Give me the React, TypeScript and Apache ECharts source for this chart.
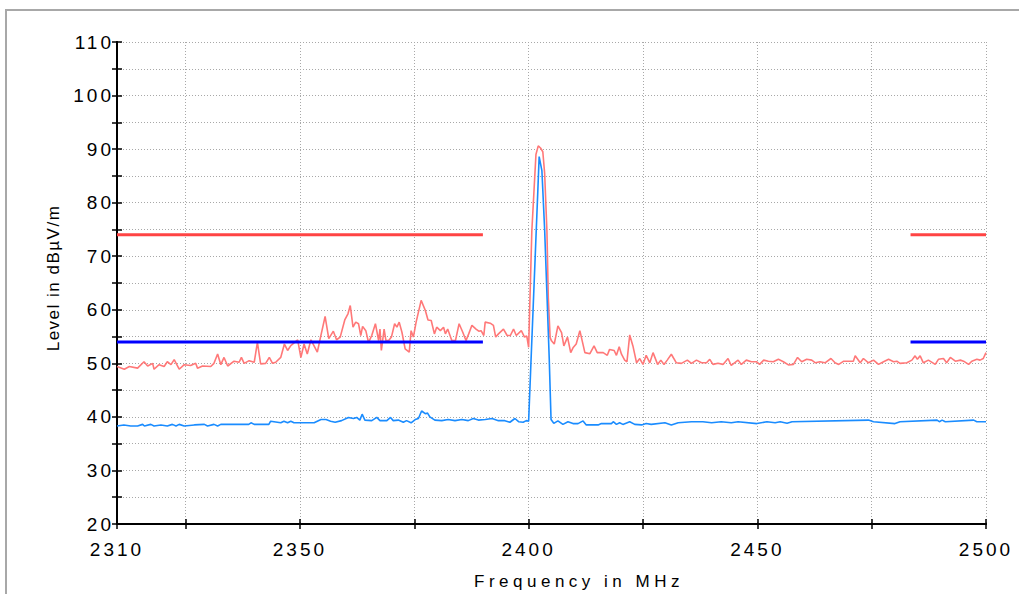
import React, { useEffect, useRef } from "react";
import * as echarts from "echarts";

const X_TITLE = "Frequency in MHz";
const Y_TITLE = "Level in dBµV/m";

const X_MIN = 2310;
const X_MAX = 2500;
const Y_MIN = 20;
const Y_MAX = 110;
const X_TICKS = [2310, 2325, 2350, 2375, 2400, 2425, 2450, 2475, 2500];
const X_LABELS = [2310, 2350, 2400, 2450, 2500];
const Y_LABELS = [20, 30, 40, 50, 60, 70, 80, 90, 100, 110];

// Peak detector trace [MHz, dBµV/m]
const peakTrace: [number, number][] = [
  [2310, 49.4], [2311.6, 48.9], [2312.7, 49.4], [2314.5, 49.1], [2315.9, 50.3], [2316.7, 49.5],
  [2317.8, 50.0], [2318.1, 48.9], [2319.2, 49.75], [2320.3, 49.4], [2321.0, 50.3], [2321.8, 49.75],
  [2322.5, 50.7], [2323.6, 48.9], [2324.7, 49.75], [2326.1, 49.6], [2327.2, 50.0], [2327.6, 49.1],
  [2328.7, 49.5], [2330.5, 49.4], [2331.2, 50.0], [2332.0, 51.75], [2332.7, 49.75], [2333.4, 51.1],
  [2334.2, 49.5], [2335.6, 50.4], [2336.7, 50.2], [2337.2, 51.1], [2337.8, 50.0], [2338.9, 50.5],
  [2340.0, 50.2], [2340.7, 53.9], [2341.4, 49.9], [2342.5, 50.0], [2343.3, 51.1], [2344.0, 50.0],
  [2344.7, 50.2], [2345.8, 51.1], [2346.6, 53.6], [2347.3, 52.4], [2348.0, 53.3], [2349.5, 54.4],
  [2350.2, 51.1], [2350.9, 53.6], [2351.6, 51.75], [2352.4, 54.4], [2353.8, 52.1], [2354.5, 54.9],
  [2355.5, 58.75], [2356.3, 54.6], [2357.3, 56.0], [2358.0, 54.4], [2358.8, 54.9], [2359.8, 58.1],
  [2360.5, 59.25], [2361.0, 60.8], [2361.6, 56.75], [2362.2, 57.7], [2362.8, 57.4], [2363.3, 55.2],
  [2363.7, 56.9], [2364.4, 56.1], [2365.0, 53.9], [2365.7, 55.2], [2366.5, 57.4], [2367.2, 54.25],
  [2367.5, 56.4], [2367.8, 52.4], [2368.4, 56.4], [2368.8, 54.25], [2369.4, 54.25], [2370.0, 54.9],
  [2370.7, 57.4], [2371.2, 56.75], [2371.7, 57.7], [2372.3, 55.8], [2373.0, 52.7], [2373.9, 52.1],
  [2374.3, 56.1], [2374.8, 54.9], [2375.4, 57.7], [2376.5, 61.75], [2377.4, 59.9], [2378.0, 58.1],
  [2378.7, 58.0], [2379.4, 55.5], [2379.9, 56.75], [2380.7, 56.1], [2381.4, 56.75], [2381.8, 55.5],
  [2382.3, 56.4], [2383.2, 54.25], [2384.0, 54.25], [2384.8, 57.4], [2385.6, 55.8], [2386.3, 54.25],
  [2386.9, 55.5], [2387.6, 57.1], [2388.5, 56.4], [2389.1, 56.0], [2389.6, 56.1], [2390.2, 55.2],
  [2390.5, 57.7], [2391.6, 57.5], [2392.3, 57.1], [2392.8, 54.9], [2393.4, 55.5], [2394.5, 56.4],
  [2395.3, 55.2], [2396.0, 55.2], [2396.7, 56.4], [2397.3, 55.2], [2398.4, 56.1], [2399.1, 54.9],
  [2399.6, 55.1], [2400.0, 53.0], [2400.3, 62.3], [2400.7, 74.7], [2401.6, 89.0], [2402.1, 90.6],
  [2402.6, 90.2], [2403.1, 89.5], [2403.5, 85.5], [2404.0, 74.7], [2404.3, 62.3], [2404.7, 54.8],
  [2405.0, 54.2], [2405.6, 53.6], [2406.4, 57.0], [2407.2, 55.75], [2407.7, 53.25], [2408.5, 54.9],
  [2409.2, 52.0], [2409.7, 52.9], [2410.4, 53.6], [2411.2, 56.1], [2412.3, 52.0], [2413.4, 51.8],
  [2414.3, 53.25], [2415.0, 52.0], [2416.3, 52.0], [2417.2, 51.5], [2417.7, 52.6], [2418.7, 52.4],
  [2419.2, 51.5], [2419.8, 53.1], [2420.3, 51.7], [2421.0, 50.6], [2421.5, 50.3], [2422.1, 55.3],
  [2422.8, 53.25], [2423.6, 50.1], [2424.3, 50.9], [2425.0, 49.8], [2425.7, 51.5], [2426.5, 50.1],
  [2427.2, 52.0], [2428.2, 49.8], [2428.9, 50.6], [2429.6, 49.8], [2430.3, 50.6], [2431.2, 51.7],
  [2432.3, 50.1], [2433.4, 50.0], [2434.7, 50.6], [2435.6, 50.0], [2436.7, 50.6], [2437.8, 50.1],
  [2438.9, 50.1], [2439.6, 50.75], [2440.3, 49.8], [2441.4, 50.0], [2442.5, 49.8], [2443.6, 50.9],
  [2444.3, 49.6], [2445.8, 50.6], [2446.5, 49.8], [2447.6, 50.6], [2448.7, 50.3], [2449.8, 50.3],
  [2450.5, 49.8], [2451.4, 50.6], [2452.4, 50.4], [2453.5, 50.3], [2454.6, 50.75], [2455.7, 50.3],
  [2456.8, 49.7], [2457.9, 49.8], [2458.8, 51.1], [2459.7, 50.3], [2460.8, 50.75], [2461.9, 50.6],
  [2462.7, 50.1], [2463.7, 50.3], [2464.8, 50.1], [2466.1, 50.9], [2467.0, 50.1], [2467.8, 49.8],
  [2468.9, 50.4], [2469.9, 50.4], [2471.0, 50.4], [2471.4, 51.4], [2472.5, 50.1], [2473.2, 50.9],
  [2474.3, 50.1], [2475.4, 50.6], [2476.5, 49.8], [2477.6, 50.3], [2478.7, 50.75], [2479.8, 50.3],
  [2480.5, 50.4], [2481.2, 50.0], [2482.7, 50.1], [2483.8, 50.6], [2484.5, 51.4], [2485.0, 50.75],
  [2485.6, 51.4], [2486.3, 50.1], [2487.4, 50.6], [2488.9, 49.8], [2489.6, 50.75], [2490.7, 50.9],
  [2491.4, 50.1], [2492.2, 51.1], [2493.3, 50.4], [2494.4, 50.6], [2495.1, 50.4], [2496.2, 49.8],
  [2496.9, 50.4], [2498.0, 50.75], [2498.7, 50.6], [2499.4, 50.9], [2500.0, 52.0],
];

// Average detector trace [MHz, dBµV/m]
const averageTrace: [number, number][] = [
  [2310, 38.3], [2311.5, 38.5], [2313.0, 38.3], [2314.5, 38.3], [2315.6, 38.6], [2316.0, 38.3],
  [2317.4, 38.6], [2318.1, 38.3], [2319.6, 38.5], [2321.0, 38.3], [2322.1, 38.6], [2322.9, 38.3],
  [2323.6, 38.6], [2324.7, 38.3], [2326.9, 38.5], [2329.1, 38.6], [2329.8, 38.3], [2331.2, 38.6],
  [2332.0, 38.3], [2332.7, 38.6], [2338.8, 38.6], [2339.3, 38.9], [2340.0, 38.6], [2343.2, 38.6],
  [2343.6, 39.2], [2345.8, 38.9], [2346.5, 39.2], [2347.3, 38.9], [2348.0, 39.2], [2348.7, 38.9],
  [2353.1, 38.9], [2354.6, 39.5], [2355.7, 39.5], [2356.7, 39.2], [2357.7, 39.0], [2359.1, 39.3],
  [2360.6, 39.9], [2361.7, 39.7], [2362.4, 39.9], [2363.1, 39.4], [2363.6, 40.5], [2364.2, 39.4],
  [2365.7, 39.3], [2366.8, 39.9], [2367.5, 39.3], [2369.0, 39.3], [2369.8, 39.9], [2370.4, 39.3],
  [2371.5, 39.4], [2372.6, 39.0], [2373.3, 39.3], [2374.3, 38.9], [2375.2, 39.5], [2375.9, 39.7],
  [2376.6, 41.1], [2377.4, 40.6], [2377.9, 40.7], [2378.4, 40.0], [2379.5, 39.4], [2381.0, 39.3],
  [2382.4, 39.5], [2383.9, 39.3], [2385.4, 39.5], [2386.8, 39.3], [2387.9, 39.7], [2389.0, 39.4],
  [2390.5, 39.5], [2392.0, 39.7], [2393.4, 39.3], [2394.8, 39.3], [2395.9, 39.0], [2397.0, 39.7],
  [2397.8, 39.1], [2398.8, 39.0], [2399.5, 39.3], [2400.0, 39.2], [2400.5, 50.0], [2401.0, 60.6],
  [2401.5, 71.3], [2402.0, 82.0], [2402.3, 88.6], [2402.9, 86.0], [2403.5, 75.0], [2404.0, 63.0],
  [2404.5, 51.0], [2404.9, 39.5], [2405.5, 38.8], [2406.4, 39.25], [2407.5, 38.6], [2408.6, 39.1],
  [2409.7, 38.75], [2410.8, 38.75], [2411.9, 39.25], [2412.6, 38.5], [2415.2, 38.5], [2415.9, 38.75],
  [2418.1, 38.75], [2418.5, 39.1], [2419.2, 38.6], [2419.9, 38.9], [2420.6, 38.6], [2422.1, 39.1],
  [2423.2, 38.6], [2424.7, 38.5], [2425.7, 38.75], [2426.8, 38.6], [2429.8, 38.9], [2431.2, 38.5],
  [2432.7, 38.9], [2435.6, 39.1], [2438.1, 39.1], [2440.0, 38.9], [2442.1, 39.1], [2444.3, 38.9],
  [2445.8, 39.1], [2449.9, 38.75], [2452.1, 39.1], [2453.9, 38.9], [2455.0, 39.1], [2456.5, 38.8],
  [2457.6, 39.1], [2474.3, 39.4], [2475.4, 39.1], [2480.1, 38.75], [2481.2, 39.1], [2489.3, 39.4],
  [2489.8, 39.1], [2490.4, 39.4], [2491.1, 39.1], [2497.3, 39.4], [2498.0, 39.1], [2500.0, 39.1],
];

// Limit lines
const LIMIT_SEGMENTS: [number, number][] = [[2310, 2390], [2483.5, 2500]];
const PEAK_LIMIT = 74;
const AVERAGE_LIMIT = 54;

const FONT = "'Liberation Sans', Arial, sans-serif";

export default function App() {
  const ref = useRef<HTMLDivElement>(null);

  useEffect(() => {
    if (!ref.current) return;
    const el = ref.current;
    const chart = echarts.init(el, undefined, { renderer: "svg" });

    const limitSeries = (level: number, color: string) =>
      LIMIT_SEGMENTS.map(([a, b]) => ({
        type: "line",
        xAxisIndex: 0,
        yAxisIndex: 0,
        data: [[a, level], [b, level]],
        showSymbol: false,
        symbol: "none",
        lineStyle: { color, width: 3 },
        silent: true,
        z: 5,
      }));

    const axisLine = { show: true, onZero: false, lineStyle: { color: "#000", width: 2 } };
    const grid = { type: [1, 2], color: "#a8a8a8", width: 1 };
    const plain = (v: number) => String(v);

    chart.setOption({
      animation: false,
      backgroundColor: "#fff",
      grid: { left: 117, right: 33, top: 42, bottom: 70 },
      xAxis: [
        {
          type: "value",
          min: X_MIN,
          max: X_MAX,
          position: "bottom",
          axisLine,
          axisTick: { show: true, inside: false, length: 5, customValues: X_TICKS, lineStyle: { color: "#000", width: 1.5 } },
          axisLabel: { customValues: X_LABELS, formatter: plain, margin: 16, color: "#000", fontSize: 19, fontFamily: FONT },
          splitLine: { show: true, lineStyle: grid },
        },
        {
          type: "value",
          min: X_MIN,
          max: X_MAX,
          position: "bottom",
          axisLine,
          axisTick: { show: true, inside: true, length: 5, customValues: X_TICKS, lineStyle: { color: "#000", width: 1.5 } },
          axisLabel: { show: false },
          splitLine: { show: false },
        },
      ],
      yAxis: [
        {
          type: "value",
          min: Y_MIN,
          max: Y_MAX,
          interval: 5,
          position: "left",
          axisLine,
          axisTick: { show: true, inside: false, length: 5, lineStyle: { color: "#000", width: 1.5 } },
          axisLabel: { customValues: Y_LABELS, formatter: plain, margin: 3, color: "#000", fontSize: 19, fontFamily: FONT },
          splitLine: { show: true, lineStyle: grid },
        },
        {
          type: "value",
          min: Y_MIN,
          max: Y_MAX,
          interval: 5,
          position: "left",
          axisLine,
          axisTick: { show: true, inside: true, length: 5, lineStyle: { color: "#000", width: 1.5 } },
          axisLabel: { show: false },
          splitLine: { show: false },
        },
      ],
      graphic: [
        {
          type: "rect",
          shape: { x: 6, y: 10, width: 1030, height: 600 },
          style: { fill: "none", stroke: "#a8a8a8", lineWidth: 2 },
          silent: true,
          z: -10,
        },
        {
          type: "text",
          x: 579,
          y: 581,
          style: { text: X_TITLE, align: "center", verticalAlign: "middle", fill: "#000", fontSize: 17, fontFamily: FONT },
        },
        {
          type: "text",
          x: 53,
          y: 278,
          rotation: Math.PI / 2,
          style: { text: Y_TITLE, align: "center", verticalAlign: "middle", fill: "#000", fontSize: 17, fontFamily: FONT },
        },
      ],
      series: [
        {
          type: "line",
          name: "Peak",
          data: peakTrace,
          showSymbol: false,
          symbol: "none",
          lineStyle: { color: "#ff7878", width: 1.6 },
          z: 2,
        },
        {
          type: "line",
          name: "Average",
          data: averageTrace,
          showSymbol: false,
          symbol: "none",
          lineStyle: { color: "#1a8cff", width: 1.6 },
          z: 3,
        },
        ...limitSeries(PEAK_LIMIT, "#ff4444"),
        ...limitSeries(AVERAGE_LIMIT, "#0000ff"),
      ],
    });

    const applySpacing = () => {
      el.querySelectorAll("text").forEach((t) => {
        const s = t.textContent || "";
        const sp = s === X_TITLE ? "4.5px" : s === Y_TITLE ? "1.5px" : "3px";
        (t as SVGTextElement).style.letterSpacing = sp;
      });
    };
    applySpacing();
    chart.on("finished", applySpacing);

    return () => {
      chart.dispose();
    };
  }, []);

  return (
    <div
      ref={ref}
      style={{ position: "absolute", left: 0, top: 0, width: 1019, height: 594, background: "#fff" }}
    />
  );
}
